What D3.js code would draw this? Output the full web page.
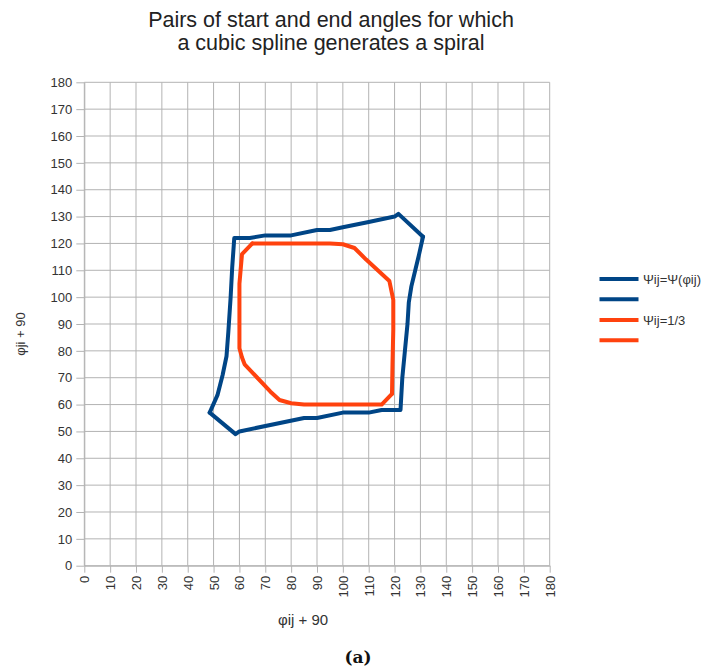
<!DOCTYPE html>
<html>
<head>
<meta charset="utf-8">
<script src="https://cdn.jsdelivr.net/npm/d3@7"></script>
<style>
  html, body { margin: 0; padding: 0; background: #fff; }
  svg { display: block; font-family: "Liberation Sans", Arial, sans-serif; }
</style>
</head>
<body>
<svg id="chart" width="701" height="670"></svg>
<script>
// Axis ticks (both axes run 0..180 in steps of 10)
const tickValues = d3.range(0, 181, 10);

// Boundary for Ψij = Ψ(φij): left and top edges
const psiFuncA = [
  [48.5, 57], [51.5, 63.5], [53.5, 71], [55, 78], [55.7, 87], [56.6, 100],
  [57.2, 111], [58, 122], [64, 122], [70, 123], [80, 123], [90, 125],
  [95, 125], [100, 126], [110, 128], [120, 130], [121.5, 131], [131, 122.5]
];
// Boundary for Ψij = Ψ(φij): right and bottom edges
const psiFuncB = [
  [131, 122.5], [129.5, 116], [128, 110], [126.5, 104], [125.5, 98],
  [125, 90], [124, 80], [123, 70], [122.3, 58], [115, 58], [110, 57],
  [100, 57], [90, 55], [85, 55], [60, 50], [58.5, 49], [48.5, 57]
];
// Boundary for Ψij = 1/3: left and bottom edges
const psiThirdA = [
  [65, 120], [61, 116], [60, 105], [60, 81], [61, 77.5], [62, 75],
  [72, 64.8], [75.5, 61.7], [80, 60.5], [85, 60], [115, 60], [119, 64]
];
// Boundary for Ψij = 1/3: right and top edges
const psiThirdB = [
  [119, 64], [119.2, 75], [119.5, 88], [119.5, 99], [118, 106],
  [109, 114], [104.5, 118.3], [100, 119.7], [95, 120], [65, 120]
];

const seriesNames = ["Ψij=Ψ(φij)", "", "Ψij=1/3", ""];
const seriesColors = ["#004586", "#004586", "#ff420e", "#ff420e"];
const seriesData = [psiFuncA, psiFuncB, psiThirdA, psiThirdB];

const svg = d3.select("#chart");
const plotLeft = 84.3, plotRight = 549.7, plotTop = 82.3, plotBottom = 565.7;
const gridColor = "#b3b3b3";

const x = d3.scaleLinear().domain([0, 180]).range([plotLeft, plotRight]);
const y = d3.scaleLinear().domain([0, 180]).range([plotBottom, plotTop]);

// Grid
const grid = svg.append("g");
grid.selectAll("line.v").data(tickValues).join("line").attr("class", "v")
  .attr("x1", d => x(d)).attr("x2", d => x(d))
  .attr("y1", plotTop).attr("y2", plotBottom)
  .attr("stroke", gridColor).attr("stroke-width", 1);
grid.selectAll("line.h").data(tickValues).join("line").attr("class", "h")
  .attr("y1", d => y(d)).attr("y2", d => y(d))
  .attr("x1", plotLeft).attr("x2", plotRight)
  .attr("stroke", gridColor).attr("stroke-width", 1);

// Axes
const yAxis = svg.append("g").attr("transform", `translate(${plotLeft},0)`)
  .call(d3.axisLeft(y).tickValues(tickValues).tickSizeInner(8).tickSizeOuter(0).tickPadding(4));
const xAxis = svg.append("g").attr("transform", `translate(0,${plotBottom})`)
  .call(d3.axisBottom(x).tickValues(tickValues).tickSizeInner(7).tickSizeOuter(0));
xAxis.selectAll("text")
  .attr("transform", "rotate(-90)")
  .attr("x", -10).attr("y", 0).attr("dy", "0.35em")
  .attr("text-anchor", "end");
[xAxis, yAxis].forEach(g => {
  g.selectAll("path, line").attr("stroke", gridColor);
  g.selectAll("text").attr("fill", "#333").attr("font-size", 13)
    .attr("font-family", "Liberation Sans, Arial, sans-serif");
});

// Series
const line = d3.line().x(d => x(d[0])).y(d => y(d[1]));
svg.append("g").selectAll("path").data(seriesData).join("path")
  .attr("d", line)
  .attr("fill", "none")
  .attr("stroke", (d, i) => seriesColors[i])
  .attr("stroke-width", 4)
  .attr("stroke-linejoin", "round")
  .attr("stroke-linecap", "round");

// Title
const title = svg.append("text").attr("text-anchor", "middle")
  .attr("font-size", 21.5).attr("fill", "#222");
title.append("tspan").attr("x", 331).attr("y", 26.5).text("Pairs of start and end angles for which");
title.append("tspan").attr("x", 331).attr("y", 50).text("a cubic spline generates a spiral");

// Axis titles
svg.append("text").attr("x", 303).attr("y", 625).attr("text-anchor", "middle")
  .attr("font-size", 15).attr("fill", "#333").text("φij + 90");
svg.append("text").attr("transform", "translate(25,334) rotate(-90)")
  .attr("text-anchor", "middle").attr("font-size", 13).attr("fill", "#333")
  .text("φji + 90");

// Legend
const legend = svg.append("g");
const legendY = [279, 299.3, 320, 340.3];
seriesNames.forEach((name, i) => {
  legend.append("line")
    .attr("x1", 599.5).attr("x2", 638.5)
    .attr("y1", legendY[i]).attr("y2", legendY[i])
    .attr("stroke", seriesColors[i]).attr("stroke-width", 4);
  if (name) {
    legend.append("text").attr("x", 643).attr("y", legendY[i] + 4.5)
      .attr("font-size", 13).attr("fill", "#333").text(name);
  }
});

// Panel caption
svg.append("text").attr("x", 358).attr("y", 663).attr("text-anchor", "middle")
  .attr("font-family", "DejaVu Serif, serif").attr("font-weight", "bold")
  .attr("font-size", 17).attr("fill", "#111").text("(a)");
</script>
</body>
</html>
